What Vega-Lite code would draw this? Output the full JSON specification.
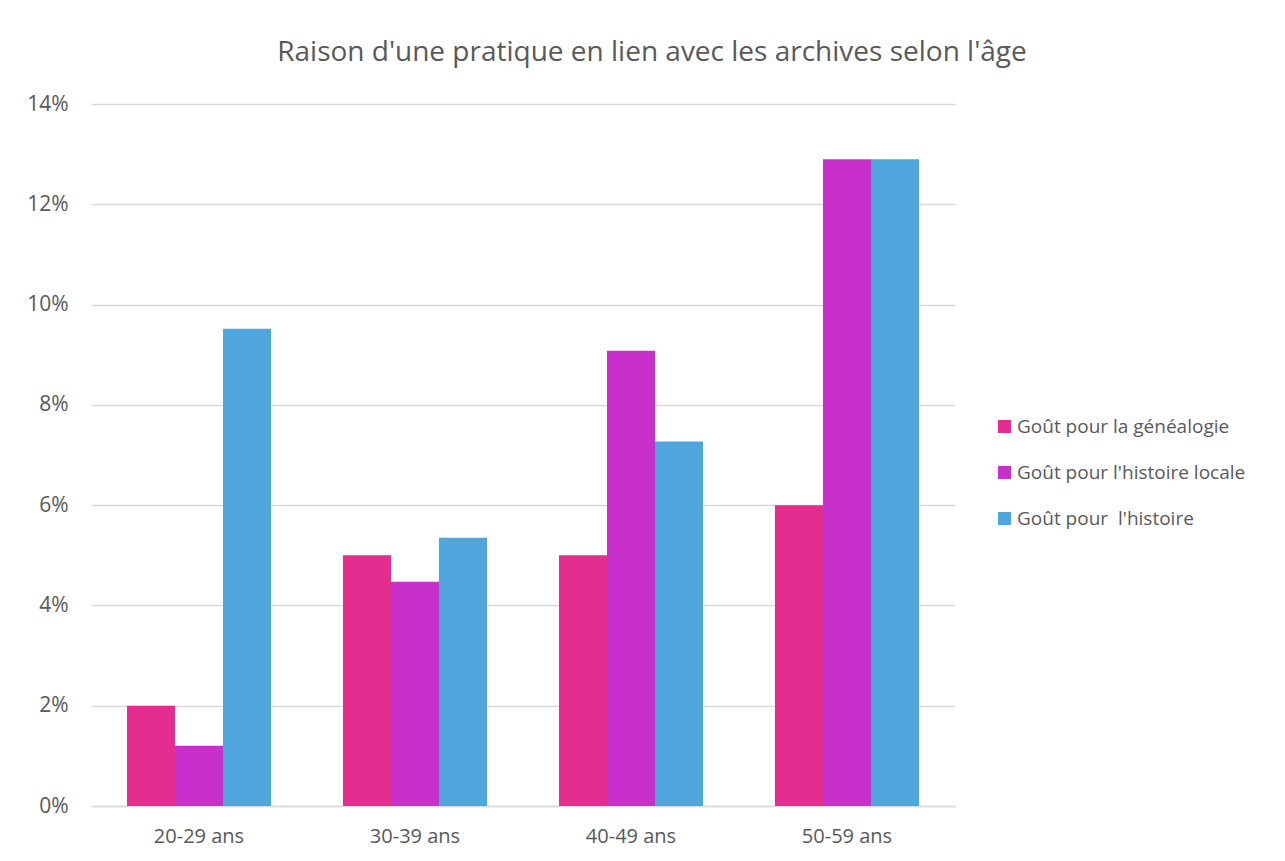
{
  "$schema": "https://vega.github.io/schema/vega-lite/v6.json",
  "autosize": "none",
  "width": 864,
  "height": 702,
  "padding": {"left": 91, "top": 104, "right": 330, "bottom": 55},
  "background": "white",
  "title": {
    "text": "Raison d'une pratique en lien avec les archives selon l'âge",
    "font": "Open Sans",
    "fontSize": 28,
    "fontWeight": "normal",
    "color": "#595959",
    "anchor": "middle",
    "dx": 129,
    "offset": 26
  },
  "data": {
    "values": [
      {"age": "20-29 ans", "serie": "Goût pour la généalogie", "valeur": 0.02},
      {"age": "20-29 ans", "serie": "Goût pour l'histoire locale", "valeur": 0.012},
      {"age": "20-29 ans", "serie": "Goût pour\u00a0 l'histoire", "valeur": 0.0952},
      {"age": "30-39 ans", "serie": "Goût pour la généalogie", "valeur": 0.05},
      {"age": "30-39 ans", "serie": "Goût pour l'histoire locale", "valeur": 0.0447},
      {"age": "30-39 ans", "serie": "Goût pour\u00a0 l'histoire", "valeur": 0.0535},
      {"age": "40-49 ans", "serie": "Goût pour la généalogie", "valeur": 0.05},
      {"age": "40-49 ans", "serie": "Goût pour l'histoire locale", "valeur": 0.0908},
      {"age": "40-49 ans", "serie": "Goût pour\u00a0 l'histoire", "valeur": 0.0727},
      {"age": "50-59 ans", "serie": "Goût pour la généalogie", "valeur": 0.06},
      {"age": "50-59 ans", "serie": "Goût pour l'histoire locale", "valeur": 0.129},
      {"age": "50-59 ans", "serie": "Goût pour\u00a0 l'histoire", "valeur": 0.129}
    ]
  },
  "mark": {"type": "bar"},
  "encoding": {
    "x": {
      "field": "age",
      "type": "nominal",
      "title": null,
      "scale": {"paddingInner": 0.3333, "paddingOuter": 0.1667},
      "axis": {
        "labelAngle": 0,
        "labelFont": "Open Sans",
        "labelFontSize": 20,
        "labelColor": "#595959",
        "labelPadding": 20,
        "domainColor": "#d9d9d9",
        "domainWidth": 1.5,
        "ticks": false
      }
    },
    "xOffset": {
      "field": "serie",
      "type": "nominal",
      "sort": ["Goût pour la généalogie", "Goût pour l'histoire locale", "Goût pour\u00a0 l'histoire"],
      "scale": {"paddingInner": 0, "paddingOuter": 0}
    },
    "y": {
      "field": "valeur",
      "type": "quantitative",
      "title": null,
      "scale": {"domain": [0, 0.14], "nice": false},
      "axis": {
        "format": ".0%",
        "values": [0, 0.02, 0.04, 0.06, 0.08, 0.1, 0.12, 0.14],
        "labelFont": "Open Sans",
        "labelFontSize": 21,
        "labelColor": "#595959",
        "labelPadding": 23,
        "domain": false,
        "ticks": false,
        "gridColor": "#d9d9d9",
        "gridWidth": 1.5
      }
    },
    "color": {
      "field": "serie",
      "type": "nominal",
      "sort": ["Goût pour la généalogie", "Goût pour l'histoire locale", "Goût pour\u00a0 l'histoire"],
      "scale": {
        "domain": ["Goût pour la généalogie", "Goût pour l'histoire locale", "Goût pour\u00a0 l'histoire"],
        "range": ["#E32D8F", "#C830CC", "#4EA6DC"]
      },
      "legend": {
        "title": null,
        "orient": "none",
        "legendX": 904,
        "legendY": 313,
        "symbolType": "square",
        "symbolSize": 169,
        "symbolStrokeWidth": 0,
        "labelFont": "Open Sans",
        "labelFontSize": 19,
        "labelColor": "#595959",
        "labelLimit": 400,
        "rowPadding": 26,
        "labelOffset": 3
      }
    }
  },
  "config": {"view": {"stroke": null}}
}
